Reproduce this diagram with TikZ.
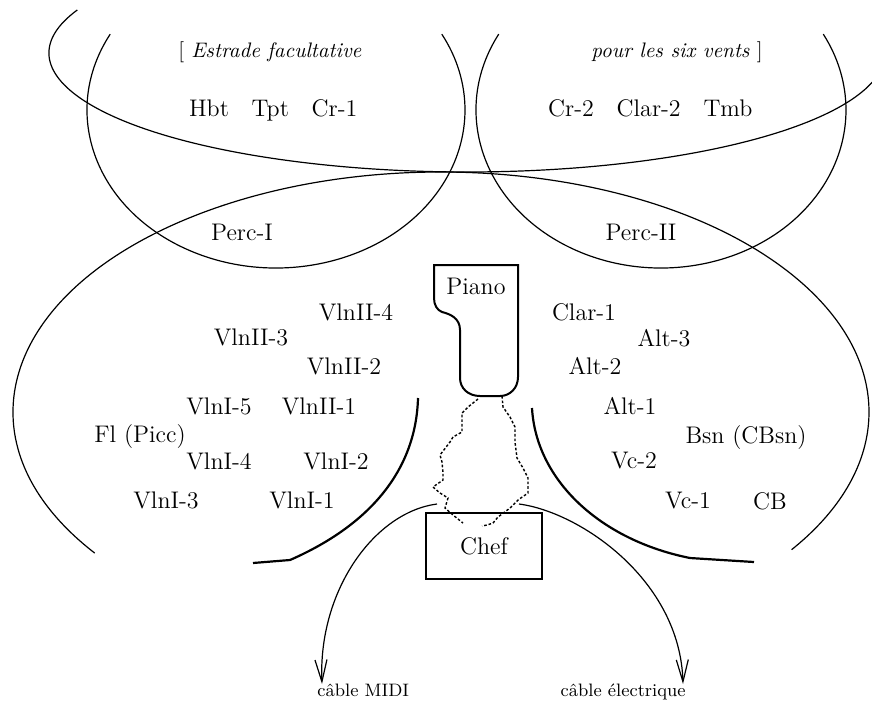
\documentclass[tikz,border=0pt]{standalone}
\usepackage{tikz}
\usetikzlibrary{arrows.meta, positioning}
\tikzset{
>={Straight Barb[length=11pt, width=6pt]}, % open heads on the two cables
player/.style={font=\fontsize{12}{14}\selectfont, inner sep=1pt}, % one desk of the orchestra
remark/.style={font=\fontsize{10.5}{12}\selectfont, inner sep=1pt}, % the note on the estrade
cablelabel/.style={font=\fontsize{9}{10}\selectfont, inner sep=0pt}, % names of the cables
chefbox/.style={draw, line width=0.6pt, minimum width=58pt, minimum height=33pt}, % podium
zone/.style={line width=0.6pt}, % big arcs round the groups
section/.style={line width=1.1pt}, % borders of the string sections
wire/.style={line width=0.7pt, dash pattern=on 1.3pt off 1pt}, % wiggly link piano to chef
cable/.style={->, line width=0.6pt}, % cables leaving the chef
}

\begin{document}
\begin{tikzpicture}[x=0.5pt, y=-0.5pt]
            \useasboundingbox (0,0) rectangle (872,702);
            % zones
            \draw[zone] (467,53) ++(201.2:418 and 119) arc[start angle=201.2, end angle=11.6, x radius=418, y radius=119];
            \draw[zone] (276,110) ++(208.7:189 and 158) arc[start angle=208.7, end angle=-28.7, x radius=189, y radius=158];
            \draw[zone] (661,110) ++(208.7:185 and 158) arc[start angle=208.7, end angle=-28.7, x radius=185, y radius=158];
            \draw[zone] (441,412) ++(144:428 and 240) arc[start angle=144, end angle=395, x radius=428, y radius=240];
            % string sections
            \draw[section] (418,398) .. controls (416,470) and (370,525) .. (290,560) -- (253,563);
            \draw[section] (532,408) .. controls (536,480) and (600,540) .. (690,558) -- (754,562);
            % piano
            \draw[line width=1pt] (434,265) -- (518,265) -- (518,377) .. controls (518,388) and (510,396) .. (500,396)
                -- (480,396) .. controls (468,396) and (460,388) .. (460,378) -- (460,330)
                .. controls (460,318) and (450,314) .. (442,312) .. controls (437,310) and (434,305) .. (434,298) -- cycle;
            \node[player] (piano) at (476,286) {Piano};
            \draw[wire] (478,399) -- (468,407) -- (462,413) -- (462,432) -- (453,437) -- (450,442) -- (440,455)
                -- (442,462) -- (443,473) -- (443,480) -- (433,487) -- (440,493) -- (448,498) -- (445,508)
                -- (453,515) -- (463,523);
            \draw[wire] (502,396) -- (503,407) -- (510,417) -- (515,427) -- (515,442) -- (517,458) -- (523,468)
                -- (528,478) -- (528,493) -- (518,500) -- (510,508) -- (498,517) -- (493,523) -- (487,525) -- (482,526);
            % estrade
            \node[remark] (estrade) at (270,52) {[ \textit{Estrade facultative}};
            \node[remark] (vents) at (677,52) {\textit{pour les six vents} ]};
            \node[player] (hbt) at (209,108) {Hbt};
            \node[player, base right=9pt of hbt] (tpt) {Tpt};
            \node[player, base right=9pt of tpt] (cr1) {Cr-1};
            \node[player] (tmb) at (728,108) {Tmb};
            \node[player, base left=9pt of tmb] (clar2) {Clar-2};
            \node[player, base left=9pt of clar2] (cr2) {Cr-2};
            \node[player] (perc1) at (242,232) {Perc-I};
            \node[player] (perc2) at (641,232) {Perc-II};
            % left side
            \node[player] (vln24) at (356,312) {VlnII-4};
            \node[player] (vln23) at (251,337) {VlnII-3};
            \node[player] (vln22) at (344,366) {VlnII-2};
            \node[player] (vln15) at (219,406) {VlnI-5};
            \node[player] (vln21) at (319,406) {VlnII-1};
            \node[player] (fl) at (140,437) {Fl (Picc)};
            \node[player] (vln14) at (219,461) {VlnI-4};
            \node[player] (vln12) at (336,461) {VlnI-2};
            \node[player] (vln13) at (166,500) {VlnI-3};
            \node[player] (vln11) at (302,500) {VlnI-1};
            % right side
            \node[player] (clar1) at (584,312) {Clar-1};
            \node[player] (alt3) at (664,338) {Alt-3};
            \node[player] (alt2) at (595,366) {Alt-2};
            \node[player] (alt1) at (630,406) {Alt-1};
            \node[player] (bsn) at (746,438) {Bsn (CBsn)};
            \node[player] (vc2) at (634,461) {Vc-2};
            \node[player] (vc1) at (688,501) {Vc-1};
            \node[player] (cb) at (770,501) {CB};
            % chef and cables
            \node[chefbox, player] (chef) at (484,546) {Chef};
            \coordinate (midiout) at (437,504);
            \coordinate (elecout) at (519,504);
            \node[cablelabel, anchor=north west] (midi) at (317,684) {câble MIDI};
            \node[cablelabel, anchor=north east] (elec) at (686,684) {câble électrique};
            \draw[cable] (midiout) .. controls (375,512) and (318,590) .. ([xshift=2.5pt]midi.north west);
            \draw[cable] (elecout) .. controls (580,512) and (680,580) .. ([xshift=-1.5pt]elec.north east);
\end{tikzpicture}
\end{document}
